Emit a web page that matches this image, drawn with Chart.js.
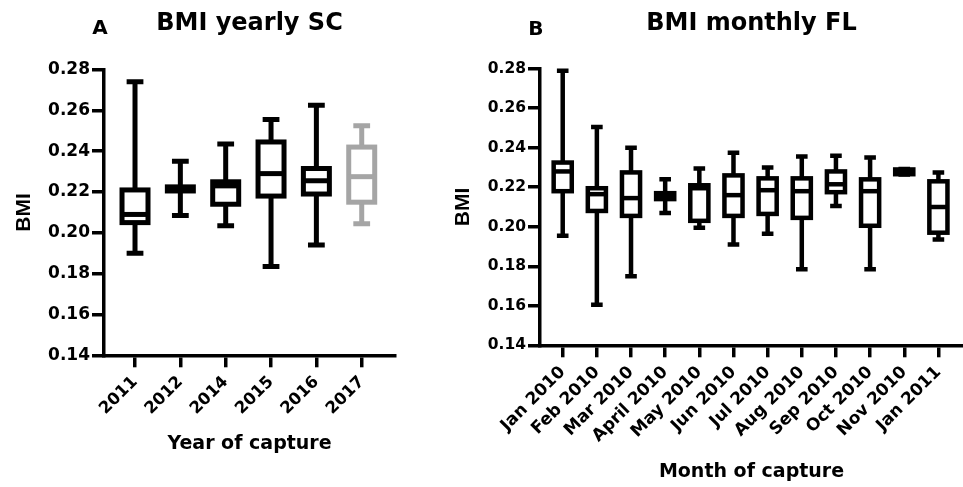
<!DOCTYPE html>
<html>
<head>
<meta charset="utf-8">
<script src="https://cdn.jsdelivr.net/npm/chart.js@4/dist/chart.umd.min.js"></script>
<style>
  html, body { margin: 0; padding: 0; background: #fff; }
  #wrap { position: relative; width: 963px; height: 487px; overflow: hidden; }
  canvas { position: absolute; top: 0; }
  #chartA { left: 0; }
  #chartB { left: 440px; }
</style>
</head>
<body>
<div id="wrap">
  <canvas id="chartA" width="440" height="487"></canvas>
  <canvas id="chartB" width="523" height="487"></canvas>
</div>
<script>
// shared y axis
const yTicks = [0.14, 0.16, 0.18, 0.20, 0.22, 0.24, 0.26, 0.28];
const yTickLabels = ['0.14', '0.16', '0.18', '0.20', '0.22', '0.24', '0.26', '0.28'];

// Panel A - BMI yearly SC
const years = ['2011', '2012', '2014', '2015', '2016', '2017'];
const yearMin = [0.190, 0.2085, 0.2035, 0.1835, 0.194, 0.2045];
const yearQ1  = [0.205, 0.2205, 0.214, 0.218, 0.219, 0.215];
const yearMed = [0.209, 0.221, 0.223, 0.229, 0.2255, 0.2275];
const yearQ3  = [0.221, 0.2225, 0.225, 0.2445, 0.2315, 0.242];
const yearMax = [0.274, 0.235, 0.2435, 0.2555, 0.2625, 0.2525];
const yearColors = ['#000', '#000', '#000', '#000', '#000', '#a5a5a5'];

// Panel B - BMI monthly FL
const months = ['Jan 2010', 'Feb 2010', 'Mar 2010', 'April 2010', 'May 2010', 'Jun 2010',
                'Jul 2010', 'Aug 2010', 'Sep 2010', 'Oct 2010', 'Nov 2010', 'Jan 2011'];
const monthMin = [0.1955, 0.1605, 0.175, 0.207, 0.1995, 0.191, 0.1965, 0.1785, 0.2105, 0.1785, 0.2265, 0.1935];
const monthQ1  = [0.218, 0.208, 0.2055, 0.214, 0.203, 0.2055, 0.2065, 0.2045, 0.2175, 0.2005, 0.2266, 0.197];
const monthMed = [0.228, 0.2165, 0.2145, 0.2155, 0.2195, 0.216, 0.2185, 0.218, 0.2215, 0.218, 0.228, 0.210];
const monthQ3  = [0.2325, 0.2195, 0.2275, 0.217, 0.221, 0.226, 0.2245, 0.2245, 0.228, 0.224, 0.229, 0.223];
const monthMax = [0.279, 0.2505, 0.240, 0.224, 0.2295, 0.2375, 0.230, 0.2355, 0.236, 0.235, 0.2292, 0.2275];
const monthColors = months.map(() => '#000');

const WIDE = '"DejaVu Sans", sans-serif';
const ARIAL = '"Liberation Sans", Arial, sans-serif';

// draws whiskers, caps, box and median through the chart scales
function boxPlugin(st) {
  return {
    id: 'boxes',
    afterDatasetsDraw(chart) {
      const { ctx, scales: { x, y } } = chart;
      const unit = x.getPixelForValue(1) - x.getPixelForValue(0);
      const bw = st.boxWidth * unit / 2;
      const cw = st.capWidth * unit / 2;
      ctx.save();
      ctx.lineWidth = st.lineWidth;
      ctx.lineCap = 'butt';
      ctx.lineJoin = 'miter';
      st.q1.forEach((_, i) => {
        const cx = x.getPixelForValue(i);
        const pMin = y.getPixelForValue(st.min[i]);
        const pQ1 = y.getPixelForValue(st.q1[i]);
        const pMed = y.getPixelForValue(st.med[i]);
        const pQ3 = y.getPixelForValue(st.q3[i]);
        const pMax = y.getPixelForValue(st.max[i]);
        ctx.strokeStyle = st.colors[i];
        ctx.beginPath();
        ctx.moveTo(cx, pMin); ctx.lineTo(cx, pQ1);
        ctx.moveTo(cx, pQ3); ctx.lineTo(cx, pMax);
        ctx.moveTo(cx - cw, pMin); ctx.lineTo(cx + cw, pMin);
        ctx.moveTo(cx - cw, pMax); ctx.lineTo(cx + cw, pMax);
        ctx.stroke();
        ctx.fillStyle = '#fff';
        ctx.fillRect(cx - bw, pQ3, bw * 2, pQ1 - pQ3);
        ctx.strokeRect(cx - bw, pQ3, bw * 2, pQ1 - pQ3);
        ctx.beginPath();
        ctx.moveTo(cx - bw, pMed); ctx.lineTo(cx + bw, pMed);
        ctx.stroke();
      });
      ctx.restore();
    }
  };
}

function letterPlugin(letter, px, py) {
  return {
    id: 'letter',
    afterDraw(chart) {
      const ctx = chart.ctx;
      ctx.save();
      ctx.fillStyle = '#000';
      ctx.font = 'bold 20px ' + WIDE;
      ctx.textAlign = 'center';
      ctx.textBaseline = 'middle';
      ctx.fillText(letter, px, py);
      ctx.restore();
    }
  };
}

function makeChart(id, c) {
  return new Chart(document.getElementById(id), {
    type: 'scatter',
    data: {
      datasets: [{
        data: c.med.map((v, i) => ({ x: i, y: v })),
        pointRadius: 0,
        pointHoverRadius: 0
      }]
    },
    options: {
      responsive: false,
      animation: false,
      layout: { padding: c.padding },
      plugins: {
        legend: { display: false },
        tooltip: { enabled: false },
        title: {
          display: true,
          text: c.title,
          fullSize: false,
          color: '#000',
          font: { family: WIDE, weight: 'bold', size: 24 },
          padding: { top: 9, bottom: c.titleGap }
        }
      },
      scales: {
        x: {
          type: 'linear',
          min: c.xMin,
          max: c.xMax,
          afterBuildTicks: s => { s.ticks = c.labels.map((_, i) => ({ value: i })); },
          afterFit: s => { s.height = c.xHeight; },
          ticks: {
            autoSkip: false,
            minRotation: 45,
            maxRotation: 45,
            padding: 5,
            color: '#000',
            font: { family: WIDE, weight: 'bold', size: c.xTickSize },
            callback: (v, i) => c.labels[i]
          },
          grid: { drawOnChartArea: false, tickLength: 12, lineWidth: 3.5, color: '#000' },
          border: { color: '#000', width: 3.5 },
          title: {
            display: true,
            text: c.xTitle,
            color: '#000',
            font: { family: WIDE, weight: 'bold', size: 19 },
            padding: { top: 0, bottom: c.xTitlePad }
          }
        },
        y: {
          min: 0.14,
          max: 0.28,
          afterBuildTicks: s => { s.ticks = yTicks.map(v => ({ value: v })); },
          afterFit: s => { s.width = c.yWidth; },
          ticks: {
            padding: 2,
            color: '#000',
            font: { family: WIDE, weight: 'bold', size: c.yTickSize },
            callback: (v, i) => yTickLabels[i]
          },
          grid: { drawOnChartArea: false, tickLength: 12, lineWidth: 3.5, color: '#000' },
          border: { color: '#000', width: 3.5 },
          title: {
            display: true,
            text: 'BMI',
            color: '#000',
            font: { family: ARIAL, weight: 'bold', size: 21 },
            padding: { top: c.yTitlePad, bottom: 0 }
          }
        }
      }
    },
    plugins: [
      boxPlugin({ min: c.min, q1: c.q1, med: c.med, q3: c.q3, max: c.max, colors: c.colors,
                  boxWidth: c.boxWidth, capWidth: c.capWidth, lineWidth: c.lineWidth }),
      letterPlugin(c.letter, c.letterX, c.letterY)
    ]
  });
}

makeChart('chartA', {
  title: 'BMI yearly SC', xTitle: 'Year of capture', labels: years,
  min: yearMin, q1: yearQ1, med: yearMed, q3: yearQ3, max: yearMax, colors: yearColors,
  xMin: -0.684, xMax: 5.734,
  padding: { left: 0, right: 45, top: 0, bottom: 0 },
  titleGap: 31.7, xHeight: 131.7, yWidth: 104, xTitlePad: 31.9, yTitlePad: 12,
  yTickSize: 17, xTickSize: 16.5, boxWidth: 0.573, capWidth: 0.37, lineWidth: 5,
  letter: 'A', letterX: 100, letterY: 29
});

makeChart('chartB', {
  title: 'BMI monthly FL', xTitle: 'Month of capture', labels: months,
  min: monthMin, q1: monthQ1, med: monthMed, q3: monthQ3, max: monthMax, colors: monthColors,
  xMin: -0.665, xMax: 11.72,
  padding: { left: 0, right: 0, top: 0, bottom: 0 },
  titleGap: 30.9, xHeight: 141.7, yWidth: 100, xTitlePad: 3.9, yTitlePad: 11,
  yTickSize: 15.5, xTickSize: 17, boxWidth: 0.53, capWidth: 0.34, lineWidth: 4.5,
  letter: 'B', letterX: 95.8, letterY: 29.5
});
</script>
</body>
</html>
